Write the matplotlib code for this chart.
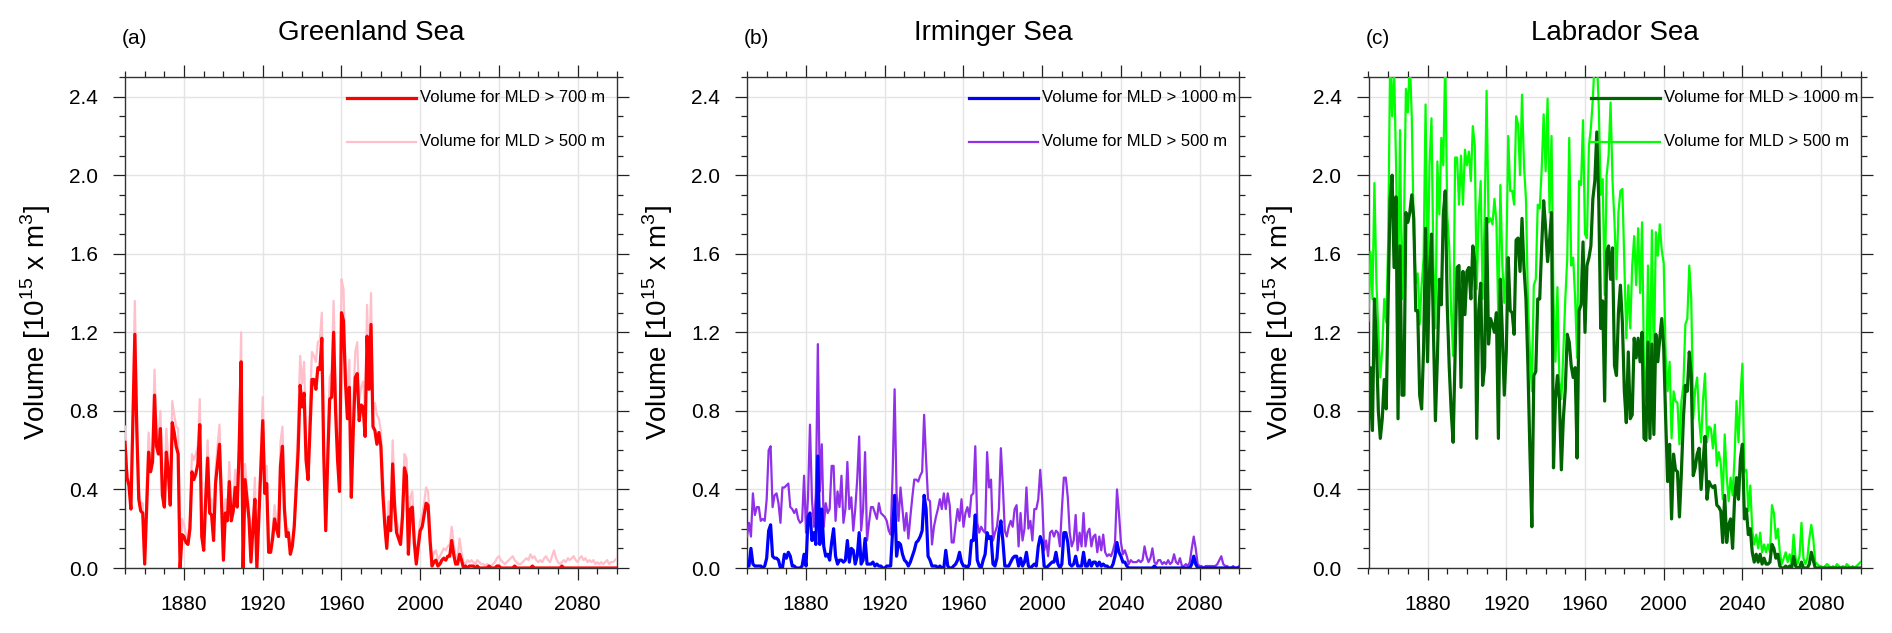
#!/usr/bin/env python3
"""Deep convection volume time series for Greenland, Irminger and Labrador Seas."""

import numpy as np
import matplotlib
matplotlib.use('Agg')
import matplotlib.pyplot as plt
from matplotlib.ticker import MultipleLocator, FormatStrFormatter

plt.rcParams['font.family'] = ['Liberation Sans', 'DejaVu Sans']
plt.rcParams['mathtext.fontset'] = 'custom'
plt.rcParams['mathtext.rm'] = 'Liberation Sans'

years = list(range(1850, 2101))

# (a) Greenland Sea, volume for MLD > 700 m (red)
gs_700 = [
    0.64, 0.46, 0.42, 0.30, 0.75, 1.19, 0.70, 0.35, 0.29, 0.28,
    0.02, 0.30, 0.59, 0.49, 0.54, 0.88, 0.62, 0.58, 0.71, 0.37,
    0.31, 0.59, 0.49, 0.32, 0.74, 0.69, 0.62, 0.58, 0.00, 0.17,
    0.16, 0.13, 0.12, 0.20, 0.49, 0.45, 0.48, 0.53, 0.73, 0.16,
    0.09, 0.35, 0.56, 0.28, 0.27, 0.14, 0.43, 0.53, 0.63, 0.35,
    0.04, 0.28, 0.24, 0.44, 0.24, 0.29, 0.41, 0.31, 0.60, 1.05,
    0.00, 0.45, 0.35, 0.25, 0.03, 0.20, 0.35, 0.00, 0.25, 0.49,
    0.75, 0.38, 0.43, 0.08, 0.08, 0.15, 0.25, 0.20, 0.16, 0.52,
    0.62, 0.30, 0.16, 0.18, 0.07, 0.11, 0.21, 0.40, 0.60, 0.93,
    0.82, 0.89, 0.55, 0.45, 0.70, 0.96, 0.96, 0.91, 1.02, 1.01,
    1.17, 0.57, 0.19, 0.55, 0.86, 0.87, 1.20, 0.80, 0.55, 0.39,
    1.30, 1.26, 0.95, 0.76, 0.92, 0.36, 0.70, 0.97, 0.99, 0.75,
    0.83, 0.82, 0.67, 1.18, 0.91, 1.24, 0.72, 0.70, 0.63, 0.69,
    0.62, 0.38, 0.22, 0.10, 0.26, 0.19, 0.53, 0.31, 0.18, 0.15,
    0.12, 0.26, 0.51, 0.47, 0.07, 0.30, 0.31, 0.13, 0.02, 0.11,
    0.19, 0.21, 0.27, 0.33, 0.32, 0.14, 0.01, 0.03, 0.04, 0.01,
    0.02, 0.04, 0.05, 0.04, 0.06, 0.06, 0.14, 0.07, 0.02, 0.02,
    0.07, 0.04, 0.00, 0.01, 0.00, 0.01, 0.01, 0.01, 0.00, 0.01,
    0.00, 0.00, 0.00, 0.00, 0.00, 0.01, 0.00, 0.00, 0.00, 0.01,
    0.01, 0.00, 0.00, 0.00, 0.00, 0.00, 0.00, 0.00, 0.01, 0.00,
    0.00, 0.00, 0.00, 0.00, 0.00, 0.00, 0.00, 0.01, 0.00, 0.00,
    0.00, 0.00, 0.00, 0.00, 0.00, 0.00, 0.00, 0.00, 0.00, 0.00,
    0.00, 0.00, 0.01, 0.00, 0.00, 0.00, 0.00, 0.00, 0.00, 0.00,
    0.00, 0.00, 0.00, 0.00, 0.00, 0.00, 0.00, 0.00, 0.00, 0.00,
    0.00, 0.00, 0.00, 0.00, 0.00, 0.00, 0.00, 0.00, 0.00, 0.00,
    0.00,
]

# (a) Greenland Sea, volume for MLD > 500 m (pink)
gs_500 = [
    0.72, 0.50, 0.45, 0.33, 0.85, 1.36, 0.80, 0.40, 0.33, 0.33,
    0.05, 0.40, 0.69, 0.55, 0.62, 1.01, 0.70, 0.65, 0.80, 0.42,
    0.36, 0.71, 0.55, 0.36, 0.85, 0.78, 0.72, 0.71, 0.02, 0.25,
    0.22, 0.17, 0.15, 0.25, 0.58, 0.55, 0.58, 0.62, 0.86, 0.20,
    0.12, 0.42, 0.65, 0.34, 0.35, 0.18, 0.50, 0.62, 0.73, 0.42,
    0.06, 0.35, 0.30, 0.54, 0.30, 0.34, 0.50, 0.36, 0.70, 1.20,
    0.02, 0.53, 0.40, 0.30, 0.05, 0.25, 0.46, 0.02, 0.32, 0.58,
    0.87, 0.45, 0.52, 0.10, 0.10, 0.19, 0.32, 0.24, 0.20, 0.64,
    0.72, 0.36, 0.19, 0.20, 0.09, 0.13, 0.25, 0.50, 0.75, 1.08,
    0.94, 1.05, 0.65, 0.52, 0.85, 1.10, 1.08, 1.05, 1.15, 1.16,
    1.30, 0.65, 0.22, 0.65, 0.97, 1.00, 1.36, 0.92, 0.62, 0.45,
    1.47, 1.42, 1.05, 0.88, 1.06, 0.42, 0.85, 1.10, 1.15, 0.85,
    0.92, 0.95, 0.80, 1.34, 1.00, 1.40, 0.80, 0.84, 0.78, 0.76,
    0.70, 0.48, 0.30, 0.14, 0.34, 0.26, 0.65, 0.38, 0.24, 0.20,
    0.16, 0.32, 0.58, 0.56, 0.10, 0.36, 0.39, 0.17, 0.04, 0.15,
    0.24, 0.27, 0.33, 0.41, 0.39, 0.20, 0.04, 0.08, 0.09, 0.04,
    0.06, 0.08, 0.10, 0.09, 0.11, 0.12, 0.21, 0.12, 0.06, 0.05,
    0.15, 0.08, 0.03, 0.02, 0.04, 0.03, 0.04, 0.03, 0.02, 0.04,
    0.03, 0.02, 0.02, 0.01, 0.02, 0.01, 0.01, 0.02, 0.03, 0.05,
    0.06, 0.04, 0.03, 0.02, 0.03, 0.04, 0.05, 0.06, 0.04, 0.03,
    0.02, 0.02, 0.03, 0.04, 0.05, 0.04, 0.07, 0.05, 0.06, 0.04,
    0.03, 0.04, 0.03, 0.05, 0.06, 0.04, 0.03, 0.06, 0.09, 0.05,
    0.03, 0.02, 0.03, 0.04, 0.03, 0.05, 0.04, 0.05, 0.06, 0.04,
    0.03, 0.05, 0.06, 0.04, 0.05, 0.03, 0.04, 0.03, 0.04, 0.02,
    0.03, 0.02, 0.03, 0.02, 0.03, 0.04, 0.02, 0.03, 0.03, 0.04,
    0.05,
]

# (b) Irminger Sea, volume for MLD > 1000 m (blue)
is_1000 = [
    0.01, 0.01, 0.10, 0.02, 0.01, 0.01, 0.01, 0.01, 0.00, 0.01,
    0.05, 0.19, 0.22, 0.06, 0.05, 0.05, 0.04, 0.00, 0.00, 0.07,
    0.05, 0.08, 0.06, 0.01, 0.01, 0.00, 0.00, 0.00, 0.01, 0.07,
    0.01, 0.26, 0.28, 0.14, 0.18, 0.12, 0.57, 0.12, 0.30, 0.11,
    0.06, 0.07, 0.04, 0.13, 0.20, 0.06, 0.02, 0.04, 0.04, 0.03,
    0.04, 0.14, 0.03, 0.10, 0.09, 0.02, 0.06, 0.18, 0.02, 0.04,
    0.15, 0.02, 0.02, 0.02, 0.03, 0.01, 0.02, 0.01, 0.01, 0.00,
    0.00, 0.01, 0.01, 0.01, 0.19, 0.37, 0.06, 0.13, 0.12, 0.07,
    0.04, 0.03, 0.01, 0.03, 0.06, 0.09, 0.13, 0.14, 0.16, 0.19,
    0.37, 0.30, 0.06, 0.04, 0.01, 0.01, 0.01, 0.00, 0.01, 0.00,
    0.00, 0.09, 0.01, 0.00, 0.00, 0.01, 0.02, 0.04, 0.08, 0.03,
    0.01, 0.01, 0.00, 0.02, 0.14, 0.14, 0.27, 0.04, 0.01, 0.00,
    0.04, 0.07, 0.18, 0.15, 0.16, 0.02, 0.01, 0.05, 0.18, 0.24,
    0.14, 0.01, 0.01, 0.01, 0.03, 0.05, 0.06, 0.06, 0.01, 0.05,
    0.01, 0.03, 0.08, 0.01, 0.00, 0.01, 0.02, 0.01, 0.11, 0.16,
    0.13, 0.01, 0.00, 0.01, 0.02, 0.03, 0.03, 0.08, 0.02, 0.00,
    0.02, 0.18, 0.18, 0.13, 0.02, 0.01, 0.02, 0.06, 0.01, 0.01,
    0.01, 0.08, 0.01, 0.01, 0.04, 0.01, 0.03, 0.03, 0.01, 0.03,
    0.01, 0.02, 0.01, 0.01, 0.00, 0.00, 0.02, 0.06, 0.13, 0.08,
    0.06, 0.03, 0.03, 0.01, 0.00, 0.00, 0.00, 0.00, 0.00, 0.00,
    0.00, 0.00, 0.00, 0.00, 0.00, 0.00, 0.00, 0.01, 0.00, 0.00,
    0.00, 0.00, 0.00, 0.00, 0.00, 0.00, 0.00, 0.00, 0.00, 0.00,
    0.00, 0.00, 0.00, 0.00, 0.00, 0.00, 0.02, 0.06, 0.02, 0.00,
    0.00, 0.00, 0.00, 0.00, 0.00, 0.00, 0.00, 0.00, 0.00, 0.00,
    0.00, 0.00, 0.00, 0.00, 0.00, 0.00, 0.00, 0.00, 0.00, 0.00,
    0.00,
]

# (b) Irminger Sea, volume for MLD > 500 m (purple)
is_500 = [
    0.16, 0.23, 0.16, 0.38, 0.27, 0.31, 0.31, 0.24, 0.25, 0.24,
    0.35, 0.60, 0.62, 0.31, 0.37, 0.38, 0.33, 0.23, 0.41, 0.41,
    0.42, 0.43, 0.31, 0.30, 0.28, 0.30, 0.25, 0.23, 0.24, 0.47,
    0.18, 0.36, 0.73, 0.35, 0.21, 0.38, 1.14, 0.39, 0.63, 0.21,
    0.33, 0.28, 0.30, 0.52, 0.52, 0.24, 0.39, 0.31, 0.47, 0.23,
    0.30, 0.54, 0.30, 0.36, 0.19, 0.30, 0.45, 0.67, 0.19, 0.30,
    0.59, 0.14, 0.23, 0.31, 0.31, 0.28, 0.25, 0.33, 0.28, 0.27,
    0.26, 0.24, 0.19, 0.17, 0.48, 0.91, 0.38, 0.24, 0.41, 0.30,
    0.19, 0.28, 0.15, 0.26, 0.36, 0.45, 0.45, 0.44, 0.47, 0.49,
    0.78, 0.55, 0.35, 0.34, 0.12, 0.21, 0.26, 0.30, 0.35, 0.30,
    0.38, 0.30, 0.38, 0.32, 0.13, 0.13, 0.22, 0.30, 0.24, 0.35,
    0.21, 0.28, 0.31, 0.26, 0.37, 0.38, 0.62, 0.23, 0.18, 0.21,
    0.19, 0.18, 0.59, 0.41, 0.45, 0.14, 0.18, 0.21, 0.30, 0.61,
    0.42, 0.19, 0.16, 0.21, 0.24, 0.21, 0.30, 0.32, 0.11, 0.28,
    0.14, 0.20, 0.41, 0.20, 0.24, 0.14, 0.30, 0.30, 0.35, 0.50,
    0.35, 0.09, 0.14, 0.06, 0.18, 0.19, 0.16, 0.19, 0.18, 0.11,
    0.30, 0.46, 0.46, 0.36, 0.18, 0.11, 0.14, 0.27, 0.09, 0.18,
    0.11, 0.28, 0.11, 0.18, 0.20, 0.11, 0.16, 0.17, 0.08, 0.16,
    0.09, 0.17, 0.08, 0.06, 0.07, 0.06, 0.09, 0.13, 0.40, 0.28,
    0.13, 0.07, 0.09, 0.06, 0.02, 0.04, 0.03, 0.03, 0.03, 0.04,
    0.03, 0.04, 0.11, 0.06, 0.03, 0.05, 0.10, 0.03, 0.02, 0.04,
    0.04, 0.02, 0.03, 0.02, 0.04, 0.02, 0.03, 0.07, 0.03, 0.02,
    0.05, 0.01, 0.01, 0.02, 0.01, 0.03, 0.10, 0.16, 0.10, 0.02,
    0.01, 0.01, 0.00, 0.01, 0.01, 0.01, 0.01, 0.01, 0.01, 0.02,
    0.04, 0.06, 0.02, 0.01, 0.01, 0.00, 0.00, 0.01, 0.00, 0.00,
    0.01,
]

# (c) Labrador Sea, volume for MLD > 1000 m (dark green)
ls_1000 = [
    0.71, 1.02, 0.70, 1.37, 1.15, 0.80, 0.66, 0.76, 0.96, 0.81,
    1.37, 1.88, 2.00, 1.53, 1.89, 0.76, 1.64, 0.88, 0.88, 1.81,
    1.76, 1.81, 1.90, 1.78, 1.31, 1.31, 0.88, 0.81, 1.12, 1.73,
    1.05, 1.51, 1.70, 1.20, 0.75, 1.07, 1.47, 1.34, 1.80, 1.92,
    1.34, 1.03, 0.80, 0.64, 1.08, 1.53, 1.54, 0.92, 1.51, 1.29,
    1.51, 1.53, 1.37, 1.64, 1.56, 0.66, 1.31, 1.45, 0.93, 1.02,
    1.78, 1.14, 1.27, 1.24, 1.20, 1.30, 0.66, 1.47, 1.20, 0.88,
    1.10, 1.58, 1.31, 1.30, 1.19, 1.67, 1.68, 1.51, 1.78, 1.53,
    1.37, 1.03, 0.60, 0.21, 0.98, 1.00, 1.37, 1.37, 1.64, 1.87,
    1.73, 1.56, 1.67, 1.81, 0.51, 0.86, 0.98, 0.86, 0.50, 0.76,
    0.91, 1.19, 1.15, 1.03, 0.97, 1.02, 0.56, 1.31, 1.34, 1.66,
    1.20, 1.54, 1.58, 1.64, 1.88, 1.97, 2.22, 1.87, 1.22, 1.36,
    0.85, 1.61, 1.64, 1.47, 1.63, 1.03, 0.98, 1.30, 1.44, 1.25,
    0.90, 0.74, 1.10, 0.76, 0.78, 1.17, 1.07, 1.17, 1.05, 1.20,
    0.66, 0.65, 1.15, 0.66, 1.14, 0.68, 1.19, 1.05, 1.17, 1.27,
    1.12, 0.76, 0.44, 0.63, 0.25, 0.58, 0.50, 0.49, 0.26, 0.49,
    0.76, 0.93, 0.90, 1.10, 0.98, 0.47, 0.51, 0.58, 0.61, 0.40,
    0.54, 0.67, 0.35, 0.44, 0.42, 0.41, 0.42, 0.32, 0.31, 0.29,
    0.13, 0.37, 0.13, 0.22, 0.25, 0.10, 0.35, 0.46, 0.35, 0.56,
    0.63, 0.25, 0.30, 0.17, 0.20, 0.08, 0.03, 0.07, 0.03, 0.07,
    0.02, 0.05, 0.02, 0.02, 0.03, 0.12, 0.10, 0.05, 0.07, 0.01,
    0.00, 0.00, 0.01, 0.00, 0.01, 0.00, 0.06, 0.01, 0.00, 0.00,
    0.03, 0.00, 0.00, 0.00, 0.02, 0.08, 0.04, 0.00, 0.00, 0.00,
    0.00, 0.00, 0.00, 0.00, 0.00, 0.00, 0.00, 0.00, 0.00, 0.00,
    0.00, 0.00, 0.00, 0.00, 0.00, 0.00, 0.00, 0.00, 0.00, 0.00,
    0.00,
]

# (c) Labrador Sea, volume for MLD > 500 m (green); values above 2.5 run off the top
ls_500 = [
    1.26, 1.61, 1.37, 1.96, 1.46, 1.20, 0.97, 1.12, 1.37, 1.25,
    1.66, 2.60, 2.30, 2.55, 2.05, 1.36, 2.23, 1.37, 1.73, 2.44,
    2.32, 2.60, 2.29, 1.71, 1.45, 1.50, 1.24, 1.44, 1.58, 2.36,
    1.46, 2.05, 2.29, 1.54, 1.22, 2.07, 1.80, 2.19, 2.05, 2.60,
    1.80, 1.64, 1.30, 1.08, 2.09, 2.09, 1.85, 2.10, 1.85, 2.13,
    2.05, 2.12, 1.97, 2.25, 2.15, 1.42, 1.80, 1.97, 1.37, 1.78,
    2.43, 1.76, 1.78, 1.75, 1.88, 1.76, 1.25, 1.95, 1.54, 1.35,
    1.55, 2.20, 1.92, 1.92, 1.85, 2.30, 2.26, 2.00, 2.41, 2.05,
    1.88, 1.37, 1.10, 0.90, 1.44, 1.47, 1.85, 1.83, 2.03, 2.31,
    2.02, 2.39, 1.81, 2.20, 1.37, 1.05, 1.43, 0.95, 0.86, 1.10,
    1.37, 1.58, 2.19, 1.54, 1.58, 1.37, 1.07, 1.97, 1.95, 2.28,
    1.70, 1.68, 2.15, 2.24, 2.39, 2.60, 2.60, 2.35, 1.90, 1.98,
    1.39, 2.00, 2.10, 2.37, 1.97, 1.76, 1.47, 1.81, 1.92, 1.93,
    1.55, 1.17, 1.44, 1.22, 1.54, 1.69, 1.44, 1.73, 1.40, 1.76,
    1.02, 0.85, 1.54, 1.00, 1.72, 1.02, 1.71, 1.59, 1.75, 1.62,
    1.55, 1.08, 0.90, 1.05, 0.66, 0.90, 0.85, 0.84, 0.63, 0.85,
    0.93, 1.24, 1.27, 1.54, 1.37, 0.76, 0.91, 0.97, 0.76, 0.64,
    0.86, 0.99, 0.64, 0.72, 0.71, 0.61, 0.73, 0.52, 0.59, 0.53,
    0.35, 0.68, 0.47, 0.34, 0.46, 0.37, 0.56, 0.85, 0.64, 0.88,
    1.04, 0.49, 0.50, 0.29, 0.42, 0.19, 0.12, 0.17, 0.10, 0.18,
    0.08, 0.12, 0.08, 0.12, 0.08, 0.32, 0.28, 0.15, 0.20, 0.08,
    0.02, 0.05, 0.08, 0.03, 0.07, 0.02, 0.17, 0.05, 0.02, 0.06,
    0.23, 0.05, 0.02, 0.05, 0.15, 0.22, 0.15, 0.03, 0.02, 0.01,
    0.01, 0.00, 0.01, 0.02, 0.01, 0.00, 0.01, 0.00, 0.02, 0.01,
    0.00, 0.01, 0.00, 0.02, 0.01, 0.00, 0.01, 0.00, 0.01, 0.02,
    0.03,
]

tags = ['(a)', '(b)', '(c)']
titles = ['Greenland Sea', 'Irminger Sea', 'Labrador Sea']
labels_main = ['Volume for MLD > 700 m', 'Volume for MLD > 1000 m', 'Volume for MLD > 1000 m']
labels_sec = ['Volume for MLD > 500 m', 'Volume for MLD > 500 m', 'Volume for MLD > 500 m']
series_main = [gs_700, is_1000, ls_1000]
series_sec = [gs_500, is_500, ls_500]
colors_main = ['#ff0000', '#0000ff', '#006400']
colors_sec = ['#ffc0cb', '#9030e8', '#00ff00']

for name, s in zip(['gs_700', 'is_1000', 'ls_1000', 'gs_500', 'is_500', 'ls_500'],
                   series_main + series_sec):
    if len(s) != len(years):
        print(name, len(s))

fig = plt.figure(figsize=(18.92, 6.33), dpi=100)
lefts = [125 / 1892, 747 / 1892, 1368.5 / 1892]
W, H = 492 / 1892, 491 / 633
B = 65 / 633

for i in range(3):
    ax = fig.add_axes([lefts[i], B, W, H])
    ax.plot(years, series_sec[i], color=colors_sec[i], lw=1.6, zorder=3)
    ax.plot(years, series_main[i], color=colors_main[i], lw=2.3, zorder=4)

    ax.set_xlim(1850, 2100)
    ax.set_ylim(0, 2.5)
    ax.xaxis.set_major_locator(plt.FixedLocator(np.arange(1880, 2081, 40)))
    ax.xaxis.set_minor_locator(MultipleLocator(10))
    ax.yaxis.set_major_locator(MultipleLocator(0.4))
    ax.yaxis.set_minor_locator(MultipleLocator(0.1))
    ax.yaxis.set_major_formatter(FormatStrFormatter('%.1f'))

    ax.tick_params(which='both', direction='out', top=True, right=True,
                   labeltop=False, labelright=False, width=0.9, colors='#222222')
    ax.tick_params(which='major', length=8.5, labelsize=15, pad=11, labelcolor='black')
    ax.tick_params(which='minor', length=4.3)
    for sp in ax.spines.values():
        sp.set_linewidth(1.0)
        sp.set_color('#333333')

    ax.grid(which='major', color='#e4e4e4', lw=1.0)
    ax.set_axisbelow(True)

    ax.text(0.5, 1.089, titles[i], transform=ax.transAxes, ha='center', va='center',
            fontsize=20)
    ax.text(-0.006, 1.079, tags[i], transform=ax.transAxes, ha='left', va='center',
            fontsize=15)
    ax.text(-0.182, 0.5, r'Volume [10$^{15}$ x m$^{3}$]', transform=ax.transAxes,
            rotation=90, ha='center', va='center', fontsize=20)

    # legend drawn by hand, no frame
    for yy, col, lw, lab in [(0.958, colors_main[i], 2.3, labels_main[i]),
                             (0.868, colors_sec[i], 1.6, labels_sec[i])]:
        ax.plot([0.452, 0.592], [yy, yy], transform=ax.transAxes, color=col, lw=lw,
                clip_on=False, zorder=5)
        ax.text(0.600, yy, lab, transform=ax.transAxes, ha='left', va='center',
                fontsize=12)

fig.savefig('out.png', dpi=100)
